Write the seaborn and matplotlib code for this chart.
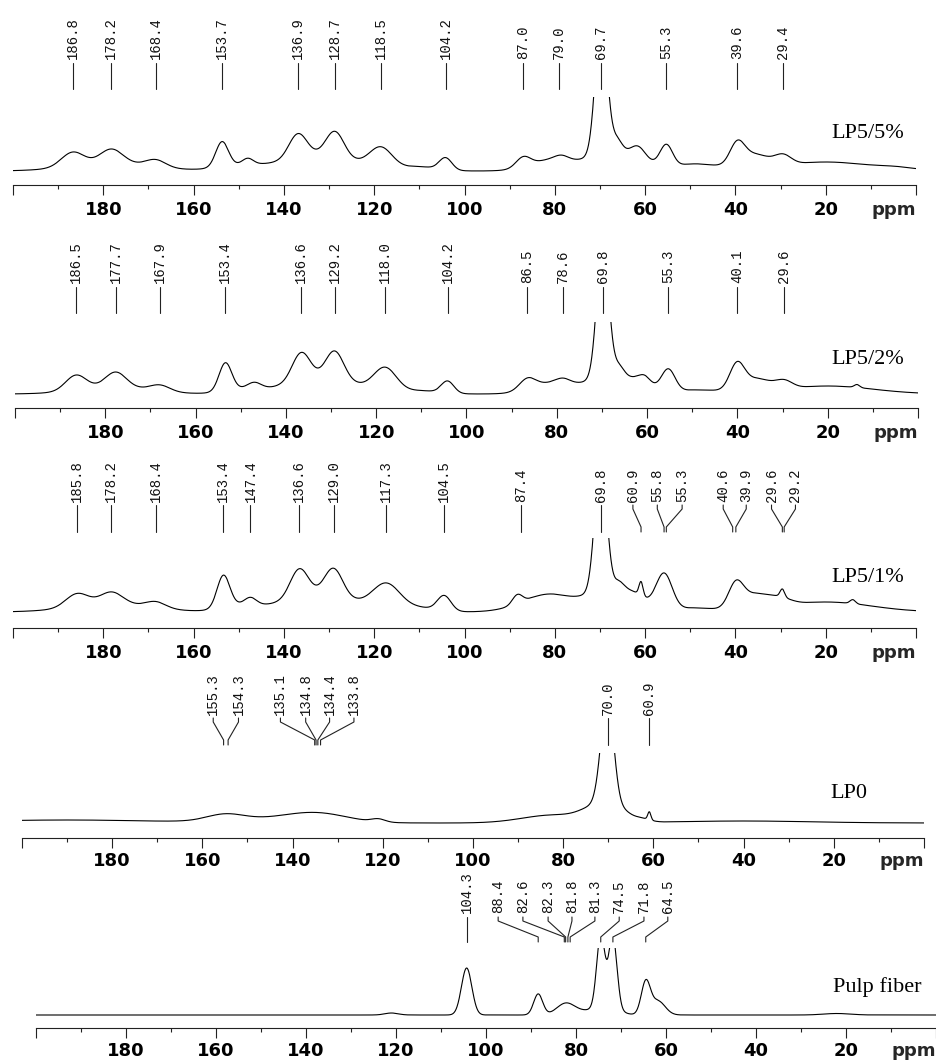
import numpy as np
import pandas as pd
import matplotlib
matplotlib.use("Agg")
import matplotlib.pyplot as plt
import seaborn as sns

sns.set_style("white")
plt.rcParams["font.family"] = ["DejaVu Sans"]

# ---------------- data ----------------
ppm_axis = np.linspace(0, 200, 4001)
tick_values = [0, 20, 40, 60, 80, 100, 120, 140, 160, 180, 200]
tick_labels = ["", "20", "40", "60", "80", "100", "120", "140", "160", "180", ""]
minor_ticks = [10, 30, 50, 70, 90, 110, 130, 150, 170, 190]

# LP5/5%
lp55_centers = [178, 186.8, 178.2, 168.4, 150, 153.7, 148.0, 132, 136.9, 128.7, 118.5, 110, 104.2,
                87.0, 80, 78.5, 71, 69.7, 66.3, 63, 61.5, 55.3, 49, 39.6, 36, 29.4, 20, 4]
lp55_heights = [8, 14, 14, 7, 5, 25, 6, 16, 24, 25, 20, 4, 12,
                10, 12, 4, 10, 140, 16, 18, 8, 22, 7, 20, 14, 9, 9, 2]
lp55_widths = [9, 2.5, 2.5, 2.2, 5, 1.4, 1.2, 8, 2.0, 2.0, 2.5, 4, 1.4,
               1.6, 5, 1.5, 3, 1.3, 1.2, 3.5, 1.5, 1.4, 5, 1.6, 3.5, 1.8, 10, 4]
lp55_labels = [186.8, 178.2, 168.4, 153.7, 136.9, 128.7, 118.5, 104.2, 87.0, 79.0, 69.7, 55.3, 39.6, 29.4]

# LP5/2%
lp52_centers = [178, 186.5, 177.7, 167.9, 150, 153.4, 147.0, 132, 136.6, 129.2, 118.0, 110, 104.2,
                86.5, 80, 78.6, 71, 69.8, 66.3, 63, 60.5, 55.3, 49, 40.1, 36, 29.6, 20, 13.5]
lp52_heights = [7, 15, 15, 6, 4, 28, 6, 16, 28, 28, 23, 3, 12,
                11, 12, 4, 10, 140, 14, 16, 6, 22, 4, 24, 13, 7, 8, 3]
lp52_widths = [8, 2.3, 2.3, 2.2, 4, 1.4, 1.5, 8, 2.0, 2.0, 2.5, 4, 1.4,
               1.8, 5, 1.5, 3, 1.3, 1.2, 3.5, 1.2, 1.5, 5, 1.6, 3.5, 1.8, 10, 0.6]
lp52_labels = [186.5, 177.7, 167.9, 153.4, 136.6, 129.2, 118.0, 104.2, 86.5, 78.6, 69.8, 55.3, 40.1, 29.6]

# LP5/1%
lp51_centers = [178, 185.8, 178.2, 168.4, 150, 153.4, 147.4, 132, 136.6, 129.0, 117.3, 110, 104.5,
                88.3, 81, 71, 69.8, 66, 63, 60.9, 55.8, 49, 39.9, 36, 30, 29.6, 20, 14]
lp51_heights = [8, 13, 12, 6, 6, 32, 7, 18, 28, 27, 25, 4, 15,
                9, 18, 12, 140, 14, 20, 14, 37, 4, 22, 15, 6, 8, 10, 4]
lp51_widths = [9, 2.5, 2.5, 2.2, 4, 1.4, 1.3, 8, 2.0, 2.0, 3.0, 4, 1.5,
               1.1, 6.0, 3, 1.3, 1.3, 3, 0.45, 1.8, 4, 1.6, 3.5, 2.5, 0.5, 10, 0.6]
lp51_labels = [185.8, 178.2, 168.4, 153.4, 147.4, 136.6, 129.0, 117.3, 104.5, 87.4, 69.8,
               60.9, 55.8, 55.3, 40.6, 39.9, 29.6, 29.2]

# LP0
lp0_centers = [190, 155, 150, 135, 121, 82, 72, 70.2, 66.5, 63, 60.9, 40]
lp0_heights = [3, 6, 3, 10, 3, 8, 15, 110, 6, 4, 8, 2]
lp0_widths = [20, 4, 8, 7, 1.5, 7, 3.5, 1.4, 1.5, 2, 0.35, 15]
lp0_labels = [155.3, 154.3, 135.1, 134.8, 134.4, 133.8, 70.0, 60.9]

# Pulp fiber
pulp_centers = [121, 104.3, 88.4, 82.3, 78, 74.5, 73.1, 71.8, 64.5, 61.8, 22]
pulp_heights = [2, 47, 21, 11, 3, 72, 8, 72, 32, 14, 1.5]
pulp_widths = [1.5, 1.15, 1.0, 2.0, 3, 0.9, 2.5, 0.9, 1.0, 1.6, 3]
pulp_labels = [104.3, 88.4, 82.6, 82.3, 81.8, 81.3, 74.5, 71.8, 64.5]

sample_names = ["LP5/5%", "LP5/2%", "LP5/1%", "LP0", "Pulp fiber"]

# ---------------- layout (pixels) ----------------
W, H = 937, 1062
fig = plt.figure(figsize=(W / 100, H / 100), dpi=100)

# label text positions (ppm) where the labels are spread apart
lp51_label_pos = [185.8, 178.2, 168.4, 153.4, 147.4, 136.6, 129.0, 117.3, 104.5, 87.4, 69.8,
                  62.7, 57.3, 51.8, 42.7, 37.6, 32.0, 26.7]
lp0_label_pos = [157.6, 152.0, 142.7, 137.1, 131.8, 126.4, 70.0, 60.9]
pulp_label_pos = [104.3, 97.3, 91.8, 86.2, 80.9, 75.8, 70.4, 64.9, 59.6]

panels = [
    dict(c=lp55_centers, h=lp55_heights, w=lp55_widths, labels=lp55_labels, pos=lp55_labels,
         x0=13, x1=916, axis=185, clip=97, base=171, ltop=63, lbot=89, tbot=59, pad=4.5,
         name=sample_names[0], nx=868, ny=133),
    dict(c=lp52_centers, h=lp52_heights, w=lp52_widths, labels=lp52_labels, pos=lp52_labels,
         x0=15, x1=918, axis=408, clip=322, base=394, ltop=287, lbot=313, tbot=283, pad=4.5,
         name=sample_names[1], nx=868, ny=360),
    dict(c=lp51_centers, h=lp51_heights, w=lp51_widths, labels=lp51_labels, pos=lp51_label_pos,
         x0=13, x1=916, axis=628, clip=538, base=612, ltop=505, lbot=532, tbot=502, pad=4.5,
         name=sample_names[2], nx=868, ny=577),
    dict(c=lp0_centers, h=lp0_heights, w=lp0_widths, labels=lp0_labels, pos=lp0_label_pos,
         x0=22, x1=924, axis=838, clip=753, base=823, ltop=718, lbot=745, tbot=715, pad=2.9,
         name=sample_names[3], nx=849, ny=793),
    dict(c=pulp_centers, h=pulp_heights, w=pulp_widths, labels=pulp_labels, pos=pulp_label_pos,
         x0=36, x1=936, axis=1028, clip=948, base=1015, ltop=917, lbot=942, tbot=913, pad=2.9,
         name=sample_names[4], nx=877, ny=987),
]

LINE = "#222222"


def spectrum(centers, heights, widths):
    y = np.zeros_like(ppm_axis)
    for c, h, w in zip(centers, heights, widths):
        y += h * np.exp(-0.5 * ((ppm_axis - c) / w) ** 2)
    return y


for p in panels:
    ax_h = p["axis"] - p["clip"]
    ax = fig.add_axes([p["x0"] / W, 1 - p["axis"] / H, (p["x1"] - p["x0"]) / W, ax_h / H])
    base = p["axis"] - p["base"]
    df = pd.DataFrame({"ppm": ppm_axis, "I": base + spectrum(p["c"], p["h"], p["w"])})
    sns.lineplot(data=df, x="ppm", y="I", ax=ax, color="black", linewidth=0.8,
                 estimator=None, legend=False)
    ax.set_xlim(200, 0)
    ax.set_ylim(0, ax_h)
    ax.set_xlabel("")
    ax.set_ylabel("")
    ax.set_yticks([])
    for s in ["left", "right", "top"]:
        ax.spines[s].set_visible(False)
    ax.spines["bottom"].set_color(LINE)
    ax.spines["bottom"].set_linewidth(0.8)
    ax.set_xticks(tick_values)
    ax.set_xticklabels(tick_labels, fontsize=13, fontweight="bold", family="DejaVu Sans")
    ax.set_xticks(minor_ticks, minor=True)
    ax.tick_params(axis="x", which="major", direction="out", length=7.2, width=0.8,
                   pad=p["pad"], color=LINE, labelcolor="black", bottom=True)
    ax.tick_params(axis="x", which="minor", direction="out", length=2.9, width=0.8,
                   color=LINE, bottom=True)
    ax.annotate("ppm", xy=(0, 0), xycoords=("data", "axes fraction"),
                xytext=(0, -(7.2 + p["pad"])), textcoords="offset points",
                ha="right", va="top", fontsize=13, fontweight="bold", family="DejaVu Sans")

    # peak labels
    y_lbot = p["axis"] - p["lbot"]
    y_ltop = p["axis"] - p["ltop"]
    y_text = p["axis"] - p["tbot"]
    for val, lx in zip(p["labels"], p["pos"]):
        if abs(lx - val) < 0.05:
            ax.plot([val, val], [y_lbot, y_ltop], color=LINE, lw=0.8, clip_on=False)
        else:
            ax.plot([val, val, lx, lx], [y_lbot, y_lbot + 5, y_ltop - 4, y_ltop],
                    color=LINE, lw=0.8, clip_on=False)
        ax.text(lx, y_text, f"{val:.1f}", rotation=90, ha="center", va="bottom",
                fontsize=10, family="Liberation Mono", color="#111111", clip_on=False)

    fig.text(p["nx"] / W, 1 - p["ny"] / H, p["name"], ha="center", va="center",
             fontsize=16, family="Liberation Serif", color="black")

fig.savefig("out.png", dpi=100)
